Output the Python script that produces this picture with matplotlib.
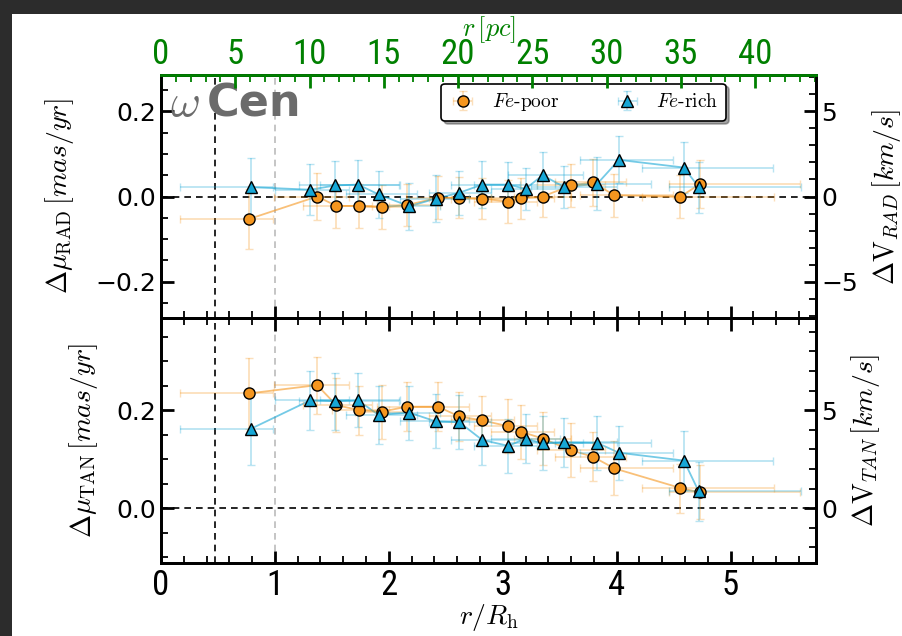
import numpy as np
import matplotlib.pyplot as plt
from matplotlib.patches import Rectangle
from matplotlib.ticker import MultipleLocator, FuncFormatter

plt.rcParams['mathtext.fontset'] = 'cm'
plt.rcParams['font.family'] = 'DejaVu Sans'

RH_PC = 7.67   # R_h in pc, for the top axis

# Fe-poor stars: bin radius, bin edges, radial and tangential offsets
r_poor = [0.77, 1.37, 1.54, 1.74, 1.94, 2.16, 2.43, 2.62, 2.82, 3.05, 3.16, 3.35, 3.60, 3.79, 3.98, 4.56, 4.73]
r_poor_lo = [0.17, 0.99, 1.25, 1.50, 1.70, 1.90, 2.15, 2.35, 2.55, 2.75, 2.90, 3.10, 3.30, 3.46, 3.68, 4.22, 4.46]
r_poor_hi = [0.98, 1.65, 1.85, 2.00, 2.20, 2.45, 2.70, 2.90, 3.10, 3.30, 3.45, 3.60, 3.90, 4.08, 4.49, 5.38, 5.61]
rad_poor = [-0.053, 0.000, -0.022, -0.022, -0.025, -0.020, -0.003, -0.003, -0.005, -0.012, -0.004, 0.000, 0.026, 0.033, 0.003, 0.000, 0.029]
rad_poor_err = [0.070, 0.055, 0.052, 0.052, 0.052, 0.050, 0.050, 0.048, 0.048, 0.050, 0.048, 0.048, 0.050, 0.055, 0.050, 0.050, 0.057]
tan_poor = [0.234, 0.251, 0.210, 0.200, 0.197, 0.207, 0.207, 0.187, 0.179, 0.167, 0.156, 0.142, 0.118, 0.105, 0.081, 0.041, 0.032]
tan_poor_err = [0.072, 0.058, 0.055, 0.050, 0.055, 0.050, 0.050, 0.050, 0.050, 0.055, 0.055, 0.055, 0.055, 0.050, 0.055, 0.050, 0.055]

# Fe-rich stars
r_rich = [0.79, 1.31, 1.53, 1.73, 1.91, 2.18, 2.41, 2.62, 2.82, 3.05, 3.20, 3.35, 3.54, 3.83, 4.02, 4.59, 4.72]
r_rich_lo = [0.17, 1.00, 1.21, 1.40, 1.62, 1.90, 2.10, 2.35, 2.55, 2.75, 2.90, 3.05, 3.25, 3.46, 3.68, 4.22, 4.46]
r_rich_hi = [0.98, 1.65, 2.09, 2.10, 2.25, 2.45, 2.70, 2.90, 3.15, 3.30, 3.50, 3.70, 4.00, 4.30, 4.49, 5.37, 5.62]
rad_rich = [0.022, 0.016, 0.026, 0.028, 0.005, -0.023, -0.005, 0.009, 0.028, 0.028, 0.018, 0.050, 0.022, 0.030, 0.086, 0.068, 0.022]
rad_rich_err = [0.068, 0.060, 0.058, 0.058, 0.055, 0.055, 0.055, 0.052, 0.055, 0.052, 0.050, 0.055, 0.050, 0.062, 0.055, 0.060, 0.060]
tan_rich = [0.162, 0.220, 0.218, 0.220, 0.190, 0.195, 0.177, 0.175, 0.139, 0.127, 0.142, 0.132, 0.134, 0.133, 0.113, 0.097, 0.034]
tan_rich_err = [0.073, 0.060, 0.058, 0.055, 0.060, 0.055, 0.055, 0.055, 0.050, 0.055, 0.050, 0.055, 0.050, 0.055, 0.055, 0.060, 0.060]

C_POOR = '#f5961f'
C_RICH = '#17a7d6'
MAS2KMS = 25.0   # mas/yr -> km/s

NARROW = ['Roboto Condensed', 'Noto Sans Condensed', 'DejaVu Sans']


def minus_fmt(fmt):
    return FuncFormatter(lambda v, pos: (fmt % v).replace('-', '\u2212'))


def draw_set(ax, r, lo, hi, y, yerr, color, marker, label, ms):
    r = np.array(r)
    xerr = [r - np.array(lo), np.array(hi) - r]
    ax.plot(r, y, '-', color=color, alpha=0.6, lw=1.3, zorder=3)
    ax.errorbar(r, y, xerr=xerr, yerr=yerr, fmt=marker, ms=ms, mfc=color, mec='k', mew=1.0,
                ecolor=color, elinewidth=1.3, capsize=3, capthick=1.1, label=label, zorder=4)
    # soften the error bars
    for art in ax.containers[-1][2]:
        art.set_alpha(0.3)
    for c in ax.containers[-1][1]:
        c.set_alpha(0.3)


def style_axis(ax):
    for s in ax.spines.values():
        s.set_linewidth(2)
    ax.tick_params(which='major', direction='in', length=9, width=2, labelsize=18)
    ax.tick_params(which='minor', direction='in', length=5, width=1.3)


fig = plt.figure(figsize=(9.03, 6.36), dpi=100, facecolor='#2c2c2c')
fig.patches.append(Rectangle((12/903, 0), 1.0, (636-14)/636, transform=fig.transFigure,
                             facecolor='white', edgecolor='none', zorder=-10))

ax1 = fig.add_axes([0.1783, 0.5, 0.7254, 0.382])
ax2 = fig.add_axes([0.1783, 0.1148, 0.7254, 0.3852], sharex=ax1)

# radial panel
draw_set(ax1, r_poor, r_poor_lo, r_poor_hi, rad_poor, rad_poor_err, C_POOR, 'o', r'$Fe$-poor', 8)
draw_set(ax1, r_rich, r_rich_lo, r_rich_hi, rad_rich, rad_rich_err, C_RICH, '^', r'$Fe$-rich', 8.5)
# tangential panel
draw_set(ax2, r_poor, r_poor_lo, r_poor_hi, tan_poor, tan_poor_err, C_POOR, 'o', r'$Fe$-poor', 8)
draw_set(ax2, r_rich, r_rich_lo, r_rich_hi, tan_rich, tan_rich_err, C_RICH, '^', r'$Fe$-rich', 8.5)

ax1.set_ylim(-0.285, 0.285)
ax2.set_ylim(-0.112, 0.388)
ax1.set_xlim(0, 5.75)

for ax in (ax1, ax2):
    ax.axhline(0, color='k', ls='--', lw=1.2, dashes=(4, 3), zorder=1)
    ax.axvline(0.475, color='k', ls='--', lw=1.2, dashes=(4, 3), zorder=1)
    ax.axvline(1.0, color='#bbbbbb', ls='--', lw=1.2, dashes=(4, 3), zorder=1)
    style_axis(ax)
    ax.xaxis.set_major_locator(MultipleLocator(1))
    ax.xaxis.set_minor_locator(MultipleLocator(0.2))
    ax.yaxis.set_major_locator(MultipleLocator(0.2))
    ax.yaxis.set_minor_locator(MultipleLocator(0.05))
    ax.yaxis.set_major_formatter(minus_fmt('%.1f'))

ax1.tick_params(which='both', bottom=True, top=False, labelbottom=False, right=False)
ax2.tick_params(which='both', bottom=True, top=True, right=False)
ax2.tick_params(axis='x', labelsize=25, labelfontfamily=NARROW, pad=4)

ax1.set_ylabel(r'$\Delta\mu_{\rm RAD}\,[mas/yr]$', fontsize=20, labelpad=14)
ax2.set_ylabel(r'$\Delta\mu_{\rm TAN}\,[mas/yr]$', fontsize=20, labelpad=12)
ax2.set_xlabel(r'$r/R_{\rm h}$', fontsize=20, labelpad=0)

# velocity scale on the right
for ax, lab in ((ax1, r'$\Delta{\rm V}_{RAD}\,[km/s]$'), (ax2, r'$\Delta{\rm V}_{TAN}\,[km/s]$')):
    axr = ax.twinx()
    lo, hi = ax.get_ylim()
    axr.set_ylim(lo * MAS2KMS, hi * MAS2KMS)
    style_axis(axr)
    axr.yaxis.set_major_locator(MultipleLocator(5))
    axr.yaxis.set_minor_locator(MultipleLocator(1))
    axr.yaxis.set_major_formatter(minus_fmt('%d'))
    axr.set_ylabel(lab, fontsize=20, labelpad=9)

# physical radius on top
axt = ax1.twiny()
axt.set_xlim(0, 5.75 * RH_PC)
style_axis(axt)
axt.xaxis.set_major_locator(MultipleLocator(5))
axt.xaxis.set_minor_locator(MultipleLocator(1))
axt.tick_params(axis='x', which='both', colors='green', labelsize=25, labelfontfamily=NARROW, pad=3)
axt.spines['top'].set_color('green')
axt.set_xlabel(r'$r\,[pc]$', fontsize=19, color='green', labelpad=1)

ax1.text(0.014, 0.83, r'$\omega$', transform=ax1.transAxes, fontsize=33, color='#6b6b6b',
         va='baseline', ha='left')
ax1.text(0.07, 0.83, 'Cen', transform=ax1.transAxes, fontsize=32, fontweight='bold',
         color='#6b6b6b', va='baseline', ha='left')

leg = ax1.legend(loc='upper left', bbox_to_anchor=(0.428, 0.965), borderaxespad=0, ncol=2,
                 prop={'family': 'cmr10', 'size': 14}, frameon=True, fancybox=True,
                 shadow=True, edgecolor='k', framealpha=1, columnspacing=2.8,
                 handlelength=1.4, handletextpad=0.8)
leg.get_frame().set_linewidth(1.2)

fig.savefig('out.png', dpi=100, facecolor=fig.get_facecolor())
